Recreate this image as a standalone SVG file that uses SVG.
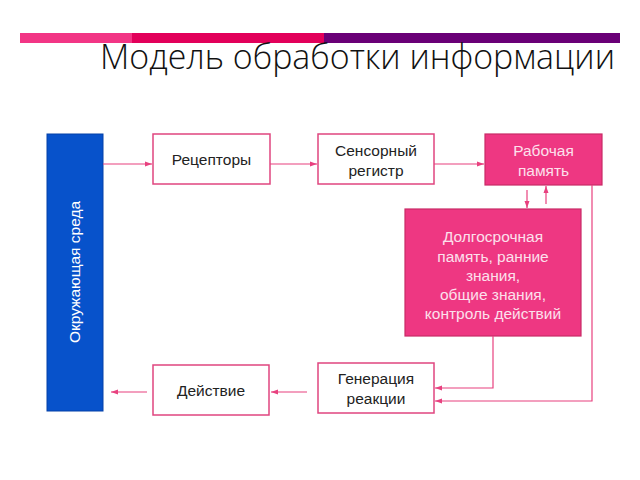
<svg xmlns="http://www.w3.org/2000/svg" width="640" height="480" viewBox="0 0 640 480">
<defs>
<marker id="ah" markerWidth="8" markerHeight="6" refX="7" refY="3" orient="auto" markerUnits="userSpaceOnUse">
<path d="M0,0.5 L7,3 L0,5.5 z" fill="#E8417F"/>
</marker>
<style>
.wb{fill:#fff;stroke:#E0457F;stroke-width:1.5}
.pb{fill:#EE3782;stroke:#C92A66;stroke-width:1.2}
.t{font-family:"Liberation Sans",Arial,sans-serif;font-size:15.5px;fill:#222;text-anchor:middle}
.tp{font-family:"Liberation Sans",Arial,sans-serif;font-size:15.5px;fill:#FCE0EC;text-anchor:middle}
.c{fill:none;stroke:#E8417F;stroke-width:1.2}
</style>
</defs>
<rect width="640" height="480" fill="#fff"/>
<g id="header">
<rect x="20" y="33" width="112" height="10" fill="#F23585"/>
<rect x="132" y="33" width="192" height="10" fill="#E2005A"/>
<rect x="324" y="33" width="296" height="10" fill="#6A0077"/>
<text x="100" y="69" font-family="'Open Sans','Noto Sans',sans-serif" font-weight="300" font-size="34" fill="#111" textLength="515" lengthAdjust="spacingAndGlyphs">Модель обработки информации</text>
</g>
<g id="env">
<rect x="47" y="134" width="56" height="277" fill="#0752CB" stroke="#0540A8" stroke-width="1"/>
<text transform="translate(80,272) rotate(-90)" font-family="'Liberation Sans',Arial,sans-serif" font-size="15.5" fill="#fff" text-anchor="middle">Окружающая среда</text>
</g>
<g id="receptors">
<rect class="wb" x="153" y="134" width="117" height="50"/>
<text class="t" x="211.5" y="165">Рецепторы</text>
</g>
<g id="sensory">
<rect class="wb" x="318" y="134" width="116" height="50"/>
<text class="t" x="376" y="156">Сенсорный</text>
<text class="t" x="376" y="176">регистр</text>
</g>
<g id="working">
<rect class="pb" x="485" y="134" width="117" height="51"/>
<text class="tp" x="543.5" y="156">Рабочая</text>
<text class="tp" x="543.5" y="176">память</text>
</g>
<g id="longterm">
<rect class="pb" x="405" y="209" width="176" height="127"/>
<text class="tp" x="493" y="242">Долгосрочная</text>
<text class="tp" x="493" y="262">память, ранние</text>
<text class="tp" x="493" y="281">знания,</text>
<text class="tp" x="493" y="300">общие знания,</text>
<text class="tp" x="493" y="319">контроль действий</text>
</g>
<g id="generation">
<rect class="wb" x="318" y="363" width="116" height="50"/>
<text class="t" x="376" y="384">Генерация</text>
<text class="t" x="376" y="404">реакции</text>
</g>
<g id="action">
<rect class="wb" x="153" y="365" width="116" height="50"/>
<text class="t" x="211" y="396">Действие</text>
</g>
<g id="connectors">
<line class="c" x1="103" y1="164" x2="152" y2="164" marker-end="url(#ah)"/>
<line class="c" x1="270" y1="164" x2="317" y2="164" marker-end="url(#ah)"/>
<line class="c" x1="434" y1="164" x2="484" y2="164" marker-end="url(#ah)"/>
<line class="c" x1="527" y1="190" x2="527" y2="208" marker-end="url(#ah)"/>
<line class="c" x1="546" y1="204" x2="546" y2="186" marker-end="url(#ah)"/>
<polyline class="c" points="493,336 493,388 435,388" marker-end="url(#ah)"/>
<polyline class="c" points="592,185 592,401 435,401" marker-end="url(#ah)"/>
<line class="c" x1="307" y1="392" x2="271" y2="392" marker-end="url(#ah)"/>
<line class="c" x1="147" y1="392" x2="111" y2="392" marker-end="url(#ah)"/>
</g>
</svg>
